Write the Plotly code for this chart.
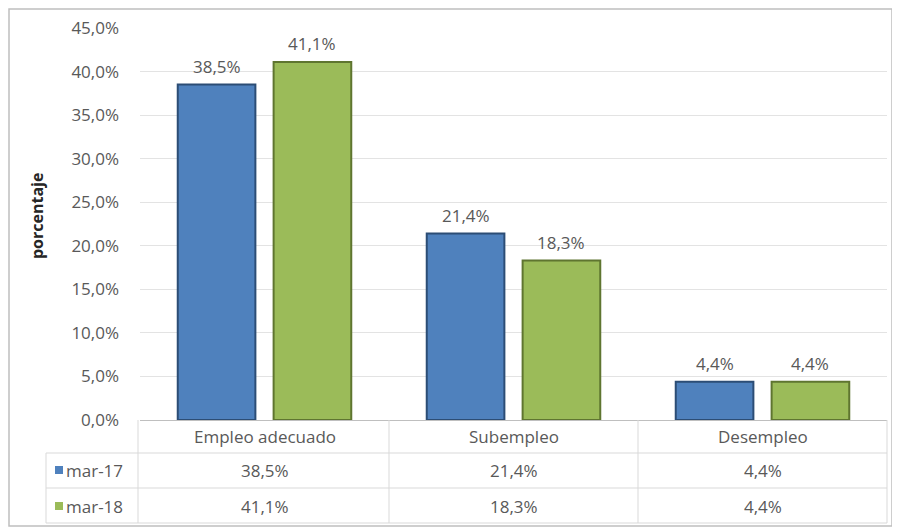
import plotly.graph_objects as go

categories = ["Empleo adecuado", "Subempleo", "Desempleo"]
series_names = ["mar-17", "mar-18"]
mar17 = [38.5, 21.4, 4.4]
mar18 = [41.1, 18.3, 4.4]
y_ticks = [0, 5, 10, 15, 20, 25, 30, 35, 40, 45]

OFF = 8  # default page body margin
W, H = 900 - OFF, 529 - OFF
# plot area in page pixels: x 140..887, y 28..420
L, R = 140 - OFF, W - (887 - OFF)
T, B = 28 - OFF, H - (420 - OFF)
PW, PH = W - L - R, H - T - B

def px(x):
    return (x - OFF - L) / PW

def py(y):
    return (H - B - (y - OFF)) / PH

FONT = "Open Sans"
GREY = "#595959"
FS = 17
colors = ["#4F81BD", "#9BBB59"]
edges = ["#2C4D75", "#5F7530"]
BARGAP, GROUPGAP = 0.23, 0.19

fig = go.Figure()
for name, vals, c, e in zip(series_names, [mar17, mar18], colors, edges):
    fig.add_trace(go.Bar(
        x=categories, y=vals, name=name,
        marker=dict(color=c, line=dict(color=e, width=2)),
        cliponaxis=False,
    ))

shapes = []
ann = []
line_c = "#D9D9D9"
for yy in [453, 488, 523]:
    shapes.append(dict(type="line", xref="paper", yref="paper", x0=px(46), x1=px(887),
                       y0=py(yy), y1=py(yy), line=dict(color=line_c, width=1)))
for xx in [138, 389, 638, 887]:
    shapes.append(dict(type="line", xref="paper", yref="paper", x0=px(xx), x1=px(xx),
                       y0=py(420), y1=py(523), line=dict(color=line_c, width=1)))
shapes.append(dict(type="line", xref="paper", yref="paper", x0=px(46), x1=px(46),
                   y0=py(453), y1=py(523), line=dict(color=line_c, width=1)))
# outer frame
shapes.append(dict(type="rect", xref="paper", yref="paper", x0=px(9), x1=px(892),
                   y0=py(9), y1=py(526), line=dict(color="#BFBFBF", width=1.5)))

# value labels above bars
slot = PW / len(categories) * (1 - BARGAP) / len(series_names)
for i, vals in enumerate([mar17, mar18]):
    shift = (i - (len(series_names) - 1) / 2) * slot
    for cat, v in zip(categories, vals):
        ann.append(dict(x=cat, xref="x", y=v, yref="y", xshift=shift, yshift=5,
                        yanchor="bottom", xanchor="center",
                        text=f"{v:.1f}%".replace(".", ","), showarrow=False,
                        font=dict(family=FONT, size=FS, color=GREY)))

row_y = [437, 470, 506]
for cat in categories:
    ann.append(dict(x=cat, xref="x", y=py(row_y[0]), yref="paper", yanchor="middle",
                    xanchor="center", text=cat, showarrow=False,
                    font=dict(family=FONT, size=FS, color=GREY)))
for i, (name, vals, c) in enumerate(zip(series_names, [mar17, mar18], colors)):
    yy = row_y[i + 1]
    shapes.append(dict(type="rect", xref="paper", yref="paper", x0=px(55), x1=px(63),
                       y0=py(yy + 4), y1=py(yy - 4), fillcolor=c, line=dict(width=0)))
    ann.append(dict(x=px(64), xref="paper", y=py(yy), yref="paper", text=name, showarrow=False,
                    xanchor="left", yanchor="middle", font=dict(family=FONT, size=FS, color=GREY)))
    for cat, v in zip(categories, vals):
        ann.append(dict(x=cat, xref="x", y=py(yy), yref="paper", yanchor="middle",
                        xanchor="center", text=f"{v:.1f}%".replace(".", ","),
                        showarrow=False, font=dict(family=FONT, size=FS, color=GREY)))

ann.append(dict(x=px(37), xref="paper", y=py(216), yref="paper", text="<b>porcentaje</b>",
                textangle=-90, showarrow=False, xanchor="center", yanchor="middle",
                font=dict(family=FONT, size=16, color="#262626")))

tick_text = [f"{t:.1f}%".replace(".", ",") for t in y_ticks]

fig.update_layout(
    width=W, height=H,
    margin=dict(l=L, r=R, t=T, b=B, autoexpand=False),
    paper_bgcolor="white", plot_bgcolor="white",
    barmode="group", bargap=BARGAP, bargroupgap=GROUPGAP,
    showlegend=False,
    shapes=shapes, annotations=ann,
    xaxis=dict(showticklabels=False, showgrid=False, showline=True, linecolor="#BFBFBF",
               zeroline=False),
    yaxis=dict(range=[0, 45], tickvals=y_ticks, ticktext=tick_text,
               showgrid=True, gridcolor="#E3E3E3", zeroline=False, showline=False,
               ticks="", ticklabelstandoff=20,
               tickfont=dict(family=FONT, size=FS, color=GREY)),
)

fig.write_html("out.html")
